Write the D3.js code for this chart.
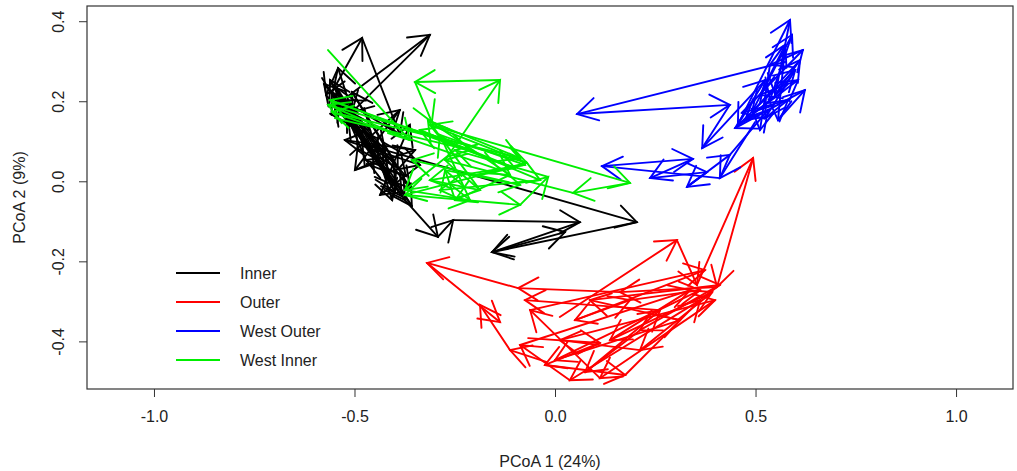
<!DOCTYPE html>
<html><head><meta charset="utf-8">
<script src="https://cdn.jsdelivr.net/npm/d3@7"></script>
<style>body{margin:0;background:#fff;} text{font-family:"Liberation Sans",Arial,sans-serif;}</style>
</head><body><svg id="c" width="1017" height="471"></svg>
<script>
// ---- data (PCoA coordinates, trajectories drawn as consecutive arrows) ----
const xTicks = [-1.0, -0.5, 0.0, 0.5, 1.0];
const yTicks = [-0.4, -0.2, 0.0, 0.2, 0.4];
const legendNames = ["Inner", "Outer", "West Outer", "West Inner"];
const legendColors = ["#000000", "#ff0000", "#0000ff", "#00ee00"];

const innerPath1 = [[-0.581,0.258],[-0.511,0.141],[-0.556,0.223],[-0.481,0.358],[-0.387,0.116],[-0.529,0.203],[-0.312,0.366],[-0.506,0.173],[-0.541,0.283],[-0.571,0.216],[-0.416,0.023],[-0.516,0.158],[-0.382,-0.037],[-0.481,0.098],[-0.544,0.233],[-0.357,-0.062],[-0.456,0.078],[-0.549,0.193],[-0.397,-0.012],[-0.496,0.133],[-0.561,0.253],[-0.441,0.053],[-0.374,-0.047],[-0.292,-0.139],[-0.254,-0.097],[0.062,-0.102],[-0.157,-0.177],[0.025,-0.127]];
const innerPath2 = [[-0.524,0.191],[-0.424,0.078],[0.204,-0.102],[-0.157,-0.177]];
const innerPath3 = [[-0.486,0.141],[-0.399,-0.027],[-0.519,0.178],[-0.372,0.013],[-0.471,0.053],[-0.536,0.203],[-0.362,-0.017],[-0.429,0.098],[-0.506,0.223],[-0.392,0.033],[-0.576,0.243],[-0.461,0.128],[-0.406,-0.047]];
const innerPath4 = [[-0.511,0.066],[-0.387,0.178],[-0.499,0.028],[-0.349,0.078],[-0.524,0.103],[-0.337,0.041],[-0.436,-0.034],[-0.362,0.141]];

const outerPath1 = [[0.012,-0.339],[0.304,-0.147],[0.354,-0.259],[0.494,0.058],[0.404,-0.264],[0.162,-0.277],[-0.092,-0.267],[-0.319,-0.204],[-0.137,-0.352]];
const outerPath2 = [[-0.020,-0.452],[-0.112,-0.422],[-0.187,-0.309]];
const outerPath3 = [[-0.067,-0.392],[0.112,-0.404],[-0.025,-0.459],[0.175,-0.484],[0.362,-0.297],[0.037,-0.497],[-0.087,-0.409],[0.337,-0.272],[0.137,-0.397],[0.392,-0.277],[0.212,-0.422],[0.012,-0.397],[0.399,-0.297],[0.112,-0.492],[-0.062,-0.322],[0.374,-0.222],[0.050,-0.347],[0.187,-0.297],[0.362,-0.272],[0.000,-0.447],[0.312,-0.347],[0.087,-0.297],[0.411,-0.259],[0.212,-0.372],[0.075,-0.477],[0.262,-0.322],[-0.075,-0.297]];

const westOuterPath1 = [[0.574,0.298],[0.055,0.168],[0.436,0.191],[0.367,0.083],[0.524,0.253],[0.456,0.141],[0.586,0.403],[0.549,0.216],[0.611,0.303],[0.491,0.173],[0.591,0.366],[0.536,0.203],[0.474,0.153],[0.606,0.253],[0.511,0.216],[0.574,0.341],[0.556,0.153],[0.623,0.228],[0.449,0.133],[0.599,0.278],[0.524,0.158],[0.581,0.203],[0.466,0.171],[0.618,0.328],[0.536,0.291],[0.511,0.128]];
const westOuterPath2 = [[0.499,0.148],[0.411,0.008],[0.117,0.038],[0.344,0.056],[0.237,0.008],[0.379,0.023],[0.329,-0.014],[0.436,0.066],[0.531,0.178]];

const westInnerPath1 = [[-0.566,0.328],[-0.362,0.103],[-0.566,0.191],[-0.070,0.046],[-0.312,0.141],[0.187,-0.004],[0.045,-0.029],[-0.274,0.053],[-0.137,0.253],[-0.349,0.248],[-0.307,0.148],[-0.087,0.058],[-0.556,0.173],[-0.137,0.028],[-0.374,-0.034],[-0.087,-0.059],[-0.017,0.011],[-0.249,0.078],[-0.374,-0.022],[-0.212,-0.047],[-0.287,0.116],[-0.075,0.041],[-0.312,0.003],[-0.187,-0.022],[-0.317,0.153],[-0.112,0.016],[-0.249,-0.047],[-0.274,0.028],[-0.087,-0.009],[-0.357,0.053]];
const westInnerPath2 = [[-0.549,0.158],[-0.212,0.078],[-0.561,0.203],[-0.100,0.033],[-0.337,0.128],[-0.037,0.003],[-0.287,-0.022]];

const groups = [
  {color: legendColors[0], paths: [innerPath1, innerPath2, innerPath3, innerPath4]},
  {color: legendColors[1], paths: [outerPath1, outerPath2, outerPath3]},
  {color: legendColors[2], paths: [westOuterPath1, westOuterPath2]},
  {color: legendColors[3], paths: [westInnerPath1, westInnerPath2]}
];

// ---- layout ----
const svg = d3.select("#c");
const L = 87, R = 1013, T = 6, B = 389;
const x = d3.scaleLinear().domain([-1.167, 1.142]).range([L, R]);
const y = d3.scaleLinear().domain([-0.519, 0.438]).range([B, T]);
const fmt = d => d.toFixed(1);

// arrows
const headLen = 23, headAng = Math.PI / 6;
groups.forEach(g => {
  const layer = svg.append("g").attr("stroke", g.color).attr("stroke-width", 1.9)
    .attr("fill", "none").attr("stroke-linecap", "round");
  g.paths.forEach(p => {
    for (let i = 0; i < p.length - 1; i++) {
      const x0 = x(p[i][0]), y0 = y(p[i][1]), x1 = x(p[i+1][0]), y1 = y(p[i+1][1]);
      const a = Math.atan2(y1 - y0, x1 - x0);
      layer.append("line").attr("x1", x0).attr("y1", y0).attr("x2", x1).attr("y2", y1);
      const hx1 = x1 - headLen * Math.cos(a - headAng), hy1 = y1 - headLen * Math.sin(a - headAng);
      const hx2 = x1 - headLen * Math.cos(a + headAng), hy2 = y1 - headLen * Math.sin(a + headAng);
      layer.append("path").attr("d", `M${hx1},${hy1}L${x1},${y1}L${hx2},${hy2}`);
    }
  });
});

// box
svg.append("rect").attr("x", L).attr("y", T).attr("width", R - L).attr("height", B - T)
  .attr("fill", "none").attr("stroke", "#333").attr("stroke-width", 1.2);

// axes
const xAxis = d3.axisBottom(x).tickValues(xTicks).tickFormat(fmt).tickSize(8).tickPadding(14);
const gx = svg.append("g").attr("transform", `translate(0,${B})`).call(xAxis);
gx.select(".domain").remove();
gx.selectAll("line").attr("stroke", "#333");
gx.selectAll("text").attr("font-size", 16).attr("fill", "#222").attr("font-family", "Liberation Sans, Arial, sans-serif");

const yAxis = d3.axisLeft(y).tickValues(yTicks).tickFormat(fmt).tickSize(8);
const gy = svg.append("g").attr("transform", `translate(${L},0)`).call(yAxis);
gy.select(".domain").remove();
gy.selectAll("line").attr("stroke", "#333");
gy.selectAll("text").remove();
gy.selectAll(".tick").append("text")
  .attr("transform", "translate(-29,0) rotate(-90)")
  .attr("text-anchor", "middle").attr("dy", "0.35em")
  .attr("font-size", 16).attr("fill", "#222")
  .text(d => fmt(d));

// axis titles
svg.append("text").attr("x", (L + R) / 2).attr("y", 467).attr("text-anchor", "middle")
  .attr("font-size", 16).attr("fill", "#222").text("PCoA 1 (24%)");
svg.append("text").attr("transform", `translate(25,${(T + B) / 2}) rotate(-90)`)
  .attr("text-anchor", "middle").attr("font-size", 16).attr("fill", "#222").text("PCoA 2 (9%)");

// legend
const lg = svg.append("g");
legendNames.forEach((n, i) => {
  const yy = 273 + i * 29;
  lg.append("line").attr("x1", 176).attr("x2", 220).attr("y1", yy).attr("y2", yy)
    .attr("stroke", legendColors[i]).attr("stroke-width", 2);
  lg.append("text").attr("x", 240).attr("y", yy).attr("dy", "0.35em")
    .attr("font-size", 16).attr("fill", "#222").text(n);
});
</script></body></html>
